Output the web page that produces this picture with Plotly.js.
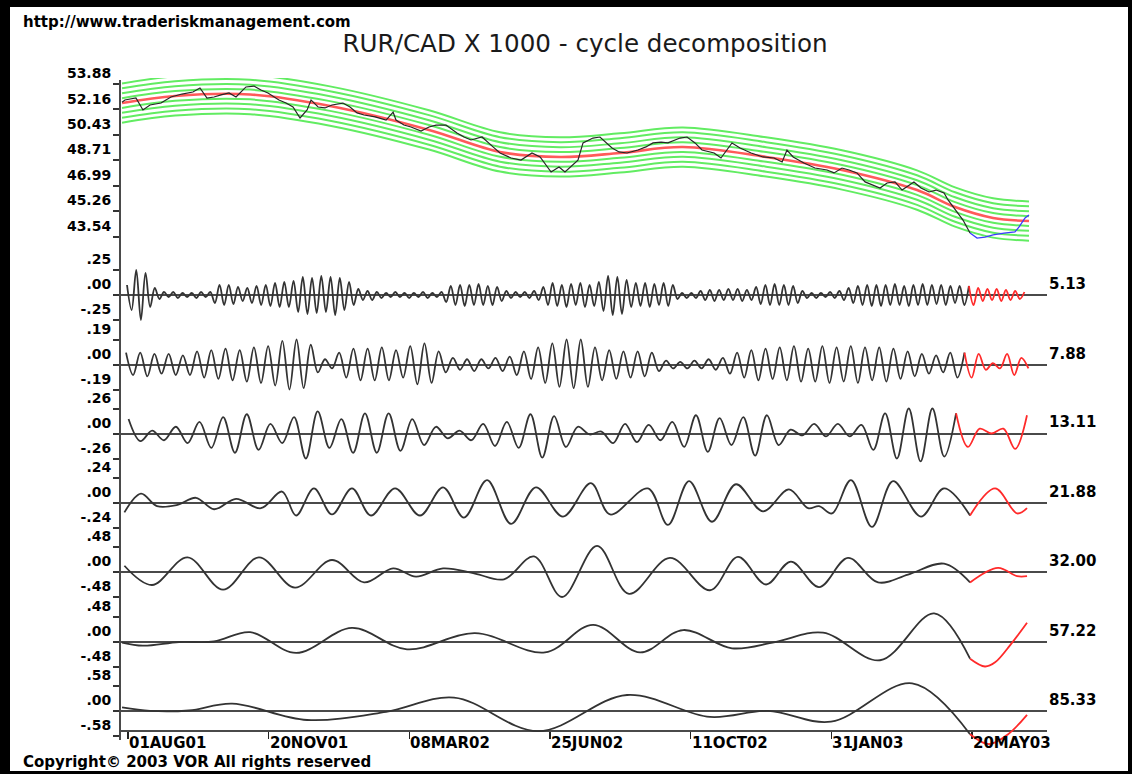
<!DOCTYPE html>
<html><head><meta charset="utf-8">
<script src="https://cdn.plot.ly/plotly-3.0.1.min.js"></script>
<style>
html,body{margin:0;padding:0;background:#fff;overflow:hidden;}
#chart{position:absolute;left:0;top:0;width:1132px;height:774px;}
.fr{position:absolute;background:#000;z-index:10;}
</style></head><body>
<div id="chart"></div>
<div class="fr" style="left:0;top:0;width:1132px;height:7px"></div>
<div class="fr" style="left:0;top:0;width:10px;height:774px"></div>
<div class="fr" style="left:0;top:771px;width:1132px;height:3px"></div>
<div class="fr" style="left:1128px;top:0;width:4px;height:774px"></div>
<script>
// ================= DATA =================
// x axis = trading-day index, 0 = 01AUG01
const tickBars = [0, 78, 156, 234, 312, 390, 468];
const tickLabels = ['01AUG01','20NOV01','08MAR02','25JUN02','11OCT02','31JAN03','20MAY03'];

// top panel (RUR/CAD x 1000)
const priceTicks = [53.88, 52.16, 50.43, 48.71, 46.99, 45.26, 43.54];
const priceTickText = ['53.88','52.16','50.43','48.71','46.99','45.26','43.54'];
const priceBars = [-3.3,-1.7,4.4,8.3,12.2,18.3,23.8,29.9,36.0,39.9,43.8,47.7,51.6,56.0,59.9,65.4,69.9,73.7,77.6,83.7,87.6,91.5,95.4,99.3,101.5,105.4,109.2,113.1,119.2,123.1,127.0,130.9,137.0,143.1,147.0,148.6,153.0,156.9,162.5,166.9,170.8,176.3,182.4,186.3,190.2,196.3,202.4,206.3,212.4,217.9,224.0,228.5,234.6,239.0,242.3,249.5,252.3,257.8,261.7,265.1,268.4,272.3,276.7,282.8,287.2,291.1,295.6,299.4,306.1,310.0,314.4,318.3,325.0,328.8,334.9,339.4,345.5,352.1,358.2,362.7,365.4,368.8,374.8,380.9,387.6,391.5,395.9,399.8,404.2,408.7,412.5,417.0,420.9,425.3,429.2,435.8,439.7,444.2,448.0,452.5,454.7,458.6,463.0,466.9];
const priceVals = [52.65,52.80,52.93,52.12,52.46,52.59,53.00,53.20,53.34,53.61,52.93,53.00,53.14,53.27,53.00,53.68,53.74,53.47,53.27,52.80,52.59,52.32,51.58,52.12,52.80,52.32,52.26,52.46,52.59,52.32,51.92,51.78,51.65,51.44,51.98,51.44,51.10,50.97,50.70,50.97,51.10,51.10,50.56,50.29,50.09,50.29,49.62,49.21,48.87,48.73,49.21,48.94,47.92,48.26,47.92,48.73,49.89,50.22,50.29,49.89,49.55,49.28,49.21,49.41,49.62,49.89,49.95,49.89,50.22,50.29,49.89,49.41,49.21,48.87,49.89,49.55,49.21,48.94,48.87,48.60,49.41,48.94,48.53,48.19,48.06,47.86,48.19,48.06,47.86,47.25,47.04,46.84,47.18,47.25,46.70,47.25,46.84,46.57,46.70,46.50,46.03,45.35,44.67,43.79];
const projBars = [466.9,470.8,475.2,479.7,485.7,491.8,494.1,497.4,499.6];
const projVals = [43.79,43.45,43.52,43.66,43.79,43.86,44.20,44.81,45.01];
const trendBars = [-3.3,26.1,67.7,112,166.9,206.3,239.6,272.8,307.7,353.8,395.9,437.5,458.6,479.7,499.6];
const trendVals = [52.59,53.07,53.17,52.39,50.77,49.28,48.94,49.21,49.61,48.94,48.06,46.70,45.55,44.81,44.60];
const bandOffsets = [-1.33,-1.0,-0.66,-0.33,0.33,0.66,1.0,1.33];

// cycle panels
const cycleLabels = ['5.13','7.88','13.11','21.88','32.00','57.22','85.33'];
const cyclePeriods = [5.13, 7.88, 13.11, 21.88, 32.00, 57.22, 85.33];
const cycleScale = [0.25, 0.19, 0.26, 0.24, 0.48, 0.48, 0.58];
const cycleTickText = [['.25','.00','-.25'],['.19','.00','-.19'],['.26','.00','-.26'],['.24','.00','-.24'],['.48','.00','-.48'],['.48','.00','-.48'],['.58','.00','-.58']];

// cycle 5.13 : successive turning-point values (half-cycle apart), first one at bar c1Start
const c1Start = -0.55;
const c1Vals = [0.10,-0.15,0.25,-0.25,0.22,-0.12,0.07,
 -0.04,0.03,-0.02,0.03,-0.03,0.02,-0.02,0.02,-0.03,0.03,-0.02,0.03,
 -0.08,0.10,-0.10,0.10,-0.09,0.08,-0.06,0.07,-0.08,0.09,-0.10,0.10,-0.11,0.12,-0.12,0.13,-0.12,0.14,
 -0.17,0.18,-0.19,0.17,-0.18,0.19,-0.17,0.18,-0.20,0.17,-0.15,0.13,-0.10,
 0.06,-0.05,0.04,-0.05,0.03,
 -0.03,0.02,-0.02,0.03,-0.02,0.02,-0.03,0.02,-0.02,0.03,-0.03,0.02,-0.02,0.03,
 -0.07,0.09,-0.10,0.10,-0.11,0.10,-0.10,0.11,-0.10,0.09,-0.10,0.08,-0.06,
 0.04,-0.03,0.03,-0.02,0.03,-0.03,0.04,-0.05,
 0.08,-0.10,0.12,-0.11,0.10,-0.12,0.11,-0.10,0.12,-0.12,0.10,-0.11,0.13,
 -0.16,0.19,-0.20,0.18,-0.19,0.15,
 -0.12,0.12,-0.11,0.12,-0.12,0.11,-0.10,0.12,-0.11,0.10,
 -0.04,0.02,-0.03,0.02,
 -0.03,0.04,-0.05,0.05,-0.06,0.05,-0.05,0.06,-0.05,0.06,-0.06,0.05,-0.05,
 0.08,-0.09,0.10,-0.10,0.11,-0.10,0.10,-0.10,0.09,-0.08,
 0.04,-0.03,0.02,-0.03,0.02,-0.02,0.03,-0.03,0.04,-0.05,
 0.07,-0.08,0.09,-0.10,0.10,-0.11,0.10,-0.11,0.10,-0.10,0.11,-0.10,0.09,-0.11,0.10,-0.10,0.11,-0.10,0.10,-0.09,0.10,-0.10,0.09,-0.08,0.09,-0.10,0.09];
const c1Proj = [-0.10,0.07,-0.06,0.06,-0.05,0.06,-0.06,0.05,-0.05,0.04,-0.04,0.03];

// cycle 7.88
const c2Start = -1.1;
const c2Vals = [0.09,-0.08,0.09,-0.09,0.08,
 -0.07,0.08,-0.08,0.07,-0.08,
 0.10,-0.10,0.11,-0.11,0.12,-0.12,0.11,
 -0.13,0.13,-0.14,0.14,
 -0.16,0.18,-0.19,0.19,-0.18,0.15,
 -0.06,0.04,-0.03,
 0.09,-0.10,0.12,-0.12,0.12,-0.12,0.13,-0.12,0.11,-0.10,
 0.14,-0.15,0.16,-0.14,0.10,
 -0.06,0.05,-0.04,0.04,-0.05,0.04,-0.03,0.05,-0.05,0.06,
 -0.08,0.10,-0.11,0.13,-0.14,0.16,
 -0.17,0.19,-0.18,0.19,-0.17,
 0.13,-0.12,0.11,-0.11,0.10,-0.10,0.10,-0.09,0.09,
 -0.05,0.03,-0.03,0.02,-0.03,0.03,-0.03,0.04,-0.04,
 0.05,-0.07,0.09,-0.10,0.11,-0.12,0.12,-0.11,
 0.13,-0.12,0.14,-0.13,0.12,-0.13,0.14,-0.14,0.13,-0.13,0.14,-0.14,0.13,-0.12,0.13,-0.13,0.12,-0.11,
 0.10,-0.09,0.08,-0.07,0.07,-0.06,0.09,
 -0.10,0.09];
const c2Proj = [-0.10,0.08,-0.04,0.01,-0.03,0.08,-0.08,0.05,-0.03];

// cycle 13.11
const c3Start = 0.3;
const c3Vals = [0.15,-0.08,0.03,-0.07,0.07,-0.10,0.12,-0.15,0.17,-0.20,0.20,-0.17,0.10,-0.10,0.17,-0.26,0.23,-0.15,0.15,-0.20,0.21,-0.20,0.21,-0.18,0.15,-0.12,0.07,-0.05,0.03,-0.07,0.10,-0.13,0.12,-0.15,0.20,-0.25,0.18,
 -0.14,0.07,-0.01,0.02,-0.10,0.10,-0.09,0.09,-0.07,0.12,-0.14,0.19,-0.19,0.16,-0.12,0.17,-0.23,0.19,-0.12,0.04,-0.02,0.10,-0.03,0.10,-0.03,0.09,-0.17,0.21,-0.26,0.26,-0.29,0.26,-0.24,0.21];
const c3Proj = [-0.14,0.05,0.00,0.05,-0.16,0.19];

// cycle 21.88 (bar, value of turning points)
const c4Bars = [-2,7.2,16.1,27,37.7,47.7,59.9,73.7,85.4,93.2,103.1,113.1,124.2,134.7,148.1,161.9,174.7,186.3,199.1,212.4,226.2,241.2,256.7,267.3,288.3,299.4,311.1,323.8,337.1,352.1,366.5,377.1,383.2,390.4,400.9,412.5,424.2,439.7,452.5,466.9];
const c4Vals = [-0.09,0.09,-0.03,-0.02,0.05,-0.06,0.04,-0.05,0.11,-0.12,0.14,-0.11,0.14,-0.12,0.14,-0.12,0.15,-0.14,0.22,-0.20,0.15,-0.13,0.19,-0.11,0.14,-0.21,0.21,-0.18,0.18,-0.08,0.13,-0.05,-0.03,-0.10,0.22,-0.23,0.21,-0.13,0.14,-0.12];
const c4ProjBars = [466.9,480.8,493,498.5];
const c4ProjVals = [-0.12,0.14,-0.10,-0.05];

// cycle 32.00
const c5Bars = [-2,13.3,33,52.7,72.6,92.6,113.1,130.9,147,159.7,174.7,192.4,208.5,225.1,240.7,260.1,277.8,300.5,322.7,338.2,353.8,367.6,383.2,399.2,415.9,432.5,452.5,466.9];
const c5Vals = [0.12,-0.25,0.28,-0.34,0.28,-0.30,0.23,-0.20,0.07,-0.09,0.07,-0.03,-0.14,0.30,-0.48,0.50,-0.42,0.27,-0.35,0.29,-0.24,0.20,-0.29,0.27,-0.20,-0.05,0.16,-0.20];
const c5ProjBars = [466.9,482.4,493,498.5];
const c5ProjVals = [-0.20,0.08,-0.08,-0.08];

// cycle 57.22
const c6Bars = [-3.3,8.3,28.3,47.7,67.7,93.2,124.2,154.7,192.4,231.2,257.9,283.9,307.8,334.9,358.8,385.4,417,447,466.9];
const c6Vals = [-0.02,-0.08,-0.01,0.00,0.18,-0.22,0.26,-0.15,0.16,-0.21,0.32,-0.21,0.22,-0.13,-0.01,0.17,-0.36,0.54,-0.33];
const c6ProjBars = [466.9,475.2,480.8,489.6,498.5];
const c6ProjVals = [-0.33,-0.48,-0.40,-0.05,0.36];

// cycle 85.33
const c7Bars = [-3.3,12.2,33.8,57.7,99.3,143.1,180.8,227.4,276.7,322.7,354.9,389.8,434.8,466.9];
const c7Vals = [0.07,-0.01,0.00,0.16,-0.22,-0.03,0.30,-0.48,0.36,-0.15,-0.01,-0.26,0.63,-0.55];
const c7ProjBars = [466.9,477.4,488,498.5];
const c7ProjVals = [-0.55,-0.78,-0.55,-0.10];

// ================= LAYOUT HELPERS =================
const W = 1132, H = 774;
const M = {l:120, r:85, t:60, b:9};
const plotW = W - M.l - M.r, plotH = H - M.t - M.b;
const fy = py => (H - M.b - py) / plotH;   // page row -> paper fraction
const fx = px => (px - M.l) / plotW;       // page column -> paper fraction
const barPx = 140.67 / 78;                  // pixels per trading day
const firstTickPx = 128;
const xRange = [(M.l - firstTickPx) / barPx, (W - M.r - firstTickPx) / barPx];

const topPxPerUnit = 14.77, topRefRow = 84;   // row of the 53.88 tick
const zeroRows = [295, 364.5, 433.5, 503, 572, 641.5, 710.5];
const ampPx = 25, halfPanel = 45;

const FONT = 'DejaVu Sans, Verdana, sans-serif';
const tickFont = {family: FONT, size: 14, color: '#000', weight: 'bold'};

// ================= TRACES =================
const traces = [];
const lineTrace = (x, y, ya, color, width, shape) => ({
  x, y, xaxis: 'x', yaxis: ya, type: 'scatter', mode: 'lines',
  line: {color, width, shape: shape || 'linear', smoothing: 1}, hoverinfo: 'skip', showlegend: false
});

bandOffsets.forEach(o => traces.push(lineTrace(trendBars, trendVals.map(v => v + o), 'y', '#62ec62', 2, 'spline')));
traces.push(lineTrace(trendBars, trendVals, 'y', '#ff5a5a', 2.6, 'spline'));
traces.push(lineTrace(priceBars, priceVals, 'y', '#262626', 1.2));
traces.push(lineTrace(projBars, projVals, 'y', '#3b3bff', 1.3));

const BLACK = '#333333', RED = '#ff2a2a', CW = 1.8;
// uniform half-cycle panels
[[c1Start, c1Vals, c1Proj], [c2Start, c2Vals, c2Proj], [c3Start, c3Vals, c3Proj]].forEach((d, k) => {
  const step = cyclePeriods[k] / 2;
  const [start, vals, proj] = d;
  const xs = vals.map((_, i) => start + i * step);
  traces.push(lineTrace(xs, vals, 'y' + (k + 2), BLACK, CW, 'spline'));
  const n = vals.length;
  const px = [xs[n - 1]].concat(proj.map((_, j) => start + (n + j) * step));
  const py = [vals[n - 1]].concat(proj);
  traces.push(lineTrace(px, py, 'y' + (k + 2), RED, CW, 'spline'));
});
[[c4Bars, c4Vals, c4ProjBars, c4ProjVals], [c5Bars, c5Vals, c5ProjBars, c5ProjVals],
 [c6Bars, c6Vals, c6ProjBars, c6ProjVals], [c7Bars, c7Vals, c7ProjBars, c7ProjVals]].forEach((d, j) => {
  const k = j + 3;
  traces.push(lineTrace(d[0], d[1], 'y' + (k + 2), BLACK, CW, 'spline'));
  traces.push(lineTrace(d[2], d[3], 'y' + (k + 2), RED, CW, 'spline'));
});

// ================= LAYOUT =================
const layout = {
  width: W, height: H, margin: M,
  paper_bgcolor: '#ffffff', plot_bgcolor: 'rgba(0,0,0,0)',
  showlegend: false,
  title: {text: 'RUR/CAD X 1000 - cycle decomposition', x: 585 / W, xanchor: 'center', xref: 'container',
          y: 1 - 43 / H, yanchor: 'middle', yref: 'container',
          font: {family: FONT, size: 24.6, color: '#1a1a1a'}},
  xaxis: {range: xRange, anchor: 'free', position: fy(731), showgrid: false, zeroline: false,
          showline: true, linecolor: '#4a4a4a', linewidth: 2,
          ticks: 'outside', tickvals: tickBars, ticklen: 7, tickwidth: 1.5, tickcolor: '#222',
          showticklabels: false, fixedrange: true},
  yaxis: {domain: [fy(258), fy(78)],
          range: [priceTicks[0] - (258 - topRefRow) / topPxPerUnit, priceTicks[0] + (topRefRow - 78) / topPxPerUnit],
          anchor: 'x', showgrid: false, zeroline: false, showline: false,
          ticks: 'outside', ticklen: 6, tickwidth: 2, tickcolor: '#333',
          tickvals: priceTicks, ticktext: priceTickText, tickfont: tickFont,
          ticklabelposition: 'outside top', ticklabelstandoff: 5, fixedrange: true},
  shapes: [
    {type: 'line', xref: 'paper', yref: 'paper', x0: 0, x1: 0, y0: fy(740), y1: fy(80),
     line: {color: '#4a4a4a', width: 2}}
  ],
  annotations: []
};

cycleScale.forEach((A, k) => {
  const z = zeroRows[k];
  const r = A * halfPanel / ampPx;
  layout['yaxis' + (k + 2)] = {
    domain: [fy(z + halfPanel), fy(z - halfPanel)], range: [-r, r], anchor: 'x',
    showgrid: false, showline: false,
    zeroline: true, zerolinecolor: '#4a4a4a', zerolinewidth: 2,
    ticks: 'outside', ticklen: 6, tickwidth: 2, tickcolor: '#333',
    tickvals: [A, 0, -A], ticktext: cycleTickText[k], tickfont: tickFont,
    ticklabelposition: 'outside top', ticklabelstandoff: 5, fixedrange: true
  };
  layout.annotations.push({
    text: cycleLabels[k], xref: 'paper', x: fx(1047), xanchor: 'left',
    yref: 'y' + (k + 2), y: 0, yanchor: 'bottom', showarrow: false,
    font: {family: FONT, size: 15, color: '#000', weight: 'bold'}
  });
});

tickBars.forEach((b, i) => layout.annotations.push({
  text: tickLabels[i], xref: 'x', x: b, xanchor: 'left', xshift: -1,
  yref: 'paper', y: fy(743), yanchor: 'middle', showarrow: false,
  font: {family: FONT, size: 15, color: '#000', weight: 'bold'}
}));

layout.annotations.push({
  text: 'http://www.traderiskmanagement.com', xref: 'paper', x: fx(21), xanchor: 'left',
  yref: 'paper', y: fy(22), yanchor: 'middle', showarrow: false,
  font: {family: FONT, size: 15, color: '#000', weight: 'bold'}
});
layout.annotations.push({
  text: 'Copyright\u00a9 2003 VOR All rights reserved', xref: 'paper', x: fx(21), xanchor: 'left',
  yref: 'paper', y: fy(762), yanchor: 'middle', showarrow: false,
  font: {family: FONT, size: 15, color: '#000', weight: 'bold'}
});

Plotly.newPlot('chart', traces, layout, {staticPlot: true, displayModeBar: false});
</script>
</body></html>
